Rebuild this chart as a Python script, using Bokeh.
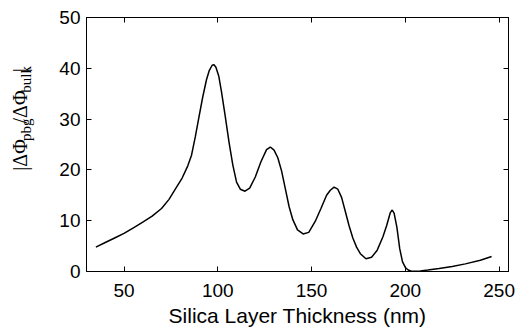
from bokeh.plotting import figure
from bokeh.layouts import row
from bokeh.models import LinearAxis, Range1d, FixedTicker
from bokeh.core.properties import value
from bokeh.embed import file_html
from bokeh.resources import INLINE
import math

# ---- data ----
thickness_nm = [35, 40, 45, 50, 55, 60, 65, 70, 74, 78, 81, 84, 86, 88, 90, 92, 94, 95.5, 97, 98, 99,
                100.5, 102, 104, 106, 108, 110, 112, 114.5, 117, 120, 123, 126, 128, 130, 132, 134,
                136, 138, 140, 142.5, 145.5, 148.5, 152, 155, 158, 160, 162, 164, 166, 168, 170, 172,
                174, 176, 179, 182, 185, 188, 190, 192, 193, 194, 195.5, 197, 198.5, 200, 201.5, 203,
                205, 208, 212, 218, 225, 232, 240, 246]
phase_ratio = [4.8, 5.7, 6.6, 7.5, 8.6, 9.7, 10.9, 12.4, 14.2, 16.6, 18.4, 20.8, 22.9, 26.5, 30.5,
               34.4, 37.8, 39.6, 40.6, 40.7, 40.2, 38.5, 35.3, 30.5, 25.4, 21.0, 17.6, 16.2, 15.8,
               16.4, 18.6, 21.6, 24.0, 24.5, 23.9, 22.4, 19.8, 16.3, 12.8, 10.2, 8.2, 7.4, 7.7, 9.9,
               12.4, 15.0, 16.0, 16.6, 16.2, 14.6, 11.8, 9.0, 6.6, 4.8, 3.5, 2.5, 2.8, 4.2, 6.8, 9.0,
               11.6, 12.1, 11.5, 8.7, 4.5, 1.9, 0.8, 0.3, 0.1, 0.05, 0.12, 0.3, 0.6, 1.0, 1.5, 2.2, 2.95]

x_ticks = [50, 100, 150, 200, 250]
y_ticks = [0, 10, 20, 30, 40, 50]
x_title = "Silica Layer Thickness (nm)"
y_title_parts = ["|ΔΦ", "pbg", "/ΔΦ", "bulk", "|"]

# ---- layout / style ----
X0, X1 = 30, 255
Y0, Y1 = 0, 50
TITLE_W, H = 54, 335

p = figure(width=516 - TITLE_W, height=H, output_backend="svg", toolbar_location=None,
           x_range=Range1d(X0, X1), y_range=Range1d(Y0, Y1),
           x_axis_location=None, y_axis_location=None,
           min_border_left=86 - TITLE_W, min_border_right=8, min_border_top=17, min_border_bottom=64)
p.grid.visible = False
p.outline_line_color = "black"
p.outline_line_width = 1
p.background_fill_color = "white"
p.border_fill_color = "white"

def styled_axis(axis, ticks, show_labels):
    axis.ticker = FixedTicker(ticks=ticks)
    axis.major_tick_in = 5
    axis.major_tick_out = 0
    axis.minor_tick_line_color = None
    axis.axis_line_color = "black"
    axis.major_tick_line_color = "black"
    axis.major_label_text_font = "Liberation Sans"
    if show_labels:
        axis.major_label_text_font_size = "19px"
        axis.major_label_text_color = "black"
    else:
        axis.major_label_text_font_size = "1px"
        axis.major_label_text_color = None
        axis.major_label_standoff = 0
    return axis

xb = styled_axis(LinearAxis(), x_ticks, True)
xb.major_label_standoff = 12
xb.axis_label = x_title
xb.axis_label_text_font = "Liberation Sans"
xb.axis_label_text_font_style = "normal"
xb.axis_label_text_font_size = "21px"
xb.axis_label_text_color = "black"
xb.axis_label_standoff = 4
p.add_layout(xb, "below")

yl = styled_axis(LinearAxis(), y_ticks, True)
yl.major_label_standoff = 6
p.add_layout(yl, "left")

p.add_layout(styled_axis(LinearAxis(), x_ticks, False), "above")
p.add_layout(styled_axis(LinearAxis(), y_ticks, False), "right")

p.line(thickness_nm, phase_ratio, line_color="black", line_width=1.5)

# ---- narrow side figure carrying the rotated y title (main text + subscripts) ----
t = figure(width=TITLE_W, height=H, output_backend="svg", toolbar_location=None,
           x_range=Range1d(0, TITLE_W), y_range=Range1d(0, H),
           x_axis_location=None, y_axis_location=None, min_border=0)
t.grid.visible = False
t.outline_line_color = None
t.background_fill_color = "white"
t.border_fill_color = "white"

MAIN, SUB = 20, 15
sizes = [MAIN, SUB, MAIN, SUB, MAIN]
em_widths = [1.95, 1.55, 2.03, 1.8, 0.2]
base_x = 19          # px of the main baseline anchor
sub_shift = 6        # subscripts sit lower (to the right when rotated)
y_cursor = H - 202   # px from bottom where the title starts
for txt, sz, ew in zip(y_title_parts, sizes, em_widths):
    is_sub = sz == SUB
    t.text(x=[base_x + (sub_shift if is_sub else 0)], y=[y_cursor], text=[txt],
           angle=math.pi / 2, text_font=value("Liberation Serif"),
           text_font_size=value(f"{sz}px"), text_color="black",
           text_align="left", text_baseline="alphabetic")
    y_cursor += ew * sz

layout = row(t, p, spacing=0)
open("out.html", "w").write(file_html(layout, INLINE))
